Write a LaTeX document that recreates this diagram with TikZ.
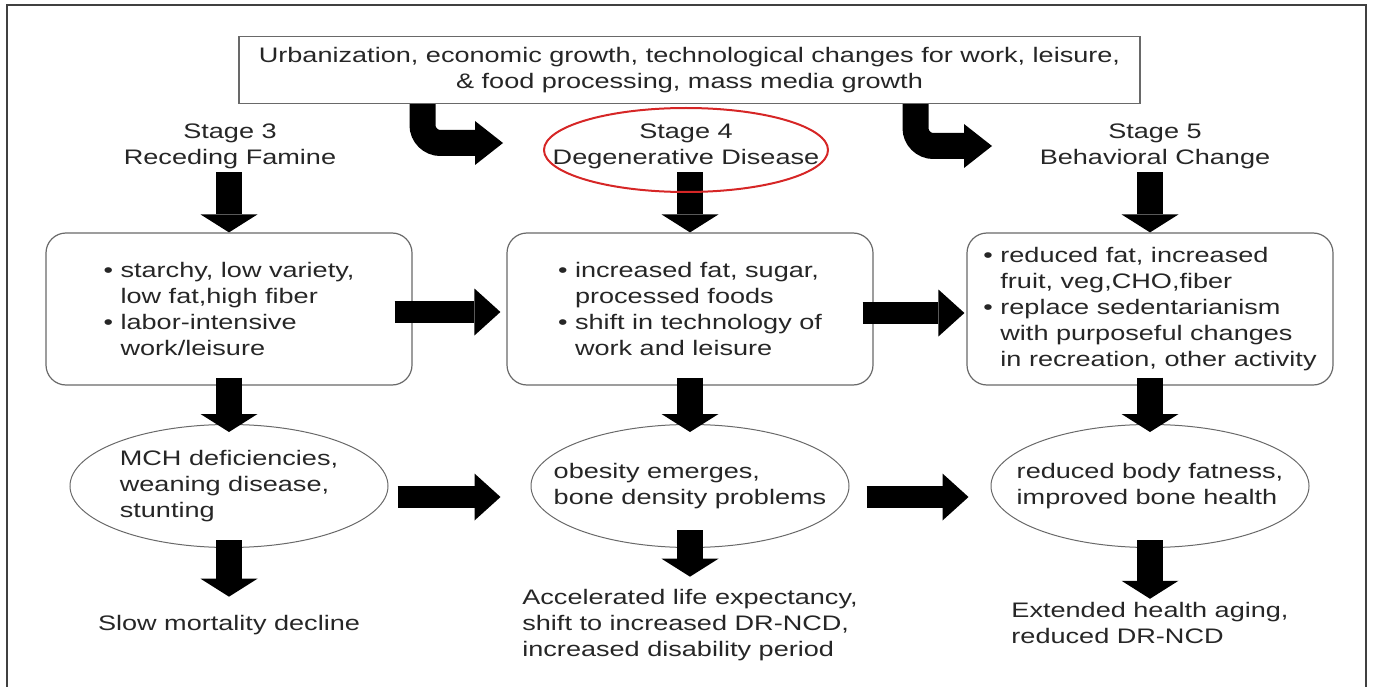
\documentclass[tikz,border=0pt]{standalone}
\usepackage{fontspec}
\setmainfont{Liberation Sans}[FakeStretch=1.29]
\usetikzlibrary{arrows.meta,shapes.geometric}

\definecolor{ringred}{RGB}{214,38,38}
\definecolor{edgegray}{RGB}{105,105,105}
\newcommand{\dotitem}{\textbullet\ }
\newcommand{\dotgap}{\hphantom{\textbullet\ }}

\begin{document}
\begin{tikzpicture}[x=1pt,y=-1pt,
	font=\fontsize{21}{26}\selectfont, text=black!85,
	stagebox/.style={draw=edgegray, line width=1.2pt, rounded corners=20pt,
		minimum width=366pt, minimum height=152pt, align=left},
	outcome/.style={draw=edgegray, line width=1pt, ellipse, minimum width=318pt,
		minimum height=123pt, inner xsep=-25pt, inner ysep=0pt, align=left},
	downfat/.style={line width=26pt, -{Triangle[length=18pt,width=57pt,line width=0pt]}},
	sidefat/.style={line width=22pt, -{Triangle[length=26pt,width=47pt,line width=0pt]}},
	bendfat/.style={line width=26pt, rounded corners=18pt,
		-{Triangle[length=28pt,width=44pt,line width=0pt]}}]
	
	\useasboundingbox (0,0) rectangle (1375,687);
	\draw[line width=1.5pt, black!75] (7,5) rectangle (1366,700); % khung ngoai
	
	% driving forces
	\node[draw=edgegray, line width=1.2pt, minimum width=901pt, minimum height=67pt, align=center]
		(drivers) at (689.5,70) {Urbanization, economic growth, technological changes for work, leisure,\\
		\& food processing, mass media growth};
	
	% stage titles
	\node[align=center] (s3) at (230,146) {Stage 3\\Receding Famine};
	\node[align=center] (s4) at (686,146) {Stage 4\\Degenerative Disease};
	\node[align=center] (s5) at (1155,146) {Stage 5\\Behavioral Change};
	
	% diet and activity
	\node[stagebox] (dietA) at (229,309) {\dotitem starchy, low variety,\\ \dotgap low fat,high fiber\\
		\dotitem labor-intensive\\ \dotgap work/leisure};
	\node[stagebox] (dietB) at (690,309) {\dotitem increased fat, sugar,\\ \dotgap processed foods\\
		\dotitem shift in technology of\\ \dotgap work and leisure};
	\node[stagebox] (dietC) at (1150,309) {\dotitem reduced fat, increased\\ \dotgap fruit, veg,CHO,fiber\\
		\dotitem replace sedentarianism\\ \dotgap with purposeful changes\\ \dotgap in recreation, other activity};
	
	% health outcomes
	\node[outcome] (bodyA) at (229,486) {MCH deficiencies,\\weaning disease,\\stunting};
	\node[outcome] (bodyB) at (690,486) {obesity emerges,\\bone density problems};
	\node[outcome] (bodyC) at (1150,486) {reduced body fatness,\\improved bone health};
	
	% mortality
	\node (lifeA) at (229,625) {Slow mortality decline};
	\node[align=left] (lifeB) at (690,625) {Accelerated life expectancy,\\shift to increased DR-NCD,\\increased disability period};
	\node[align=left] (lifeC) at (1150,623) {Extended health aging,\\reduced DR-NCD};
	
	% bent arrows from the top box
	\coordinate (turn4) at (503,143);
	\coordinate (turn5) at (992,146);
	\draw[bendfat] ([xshift=-267pt]drivers.south) |- (turn4);
	\draw[bendfat] ([xshift=226pt]drivers.south) |- (turn5);
	
	% downward arrows
	\draw[downfat] (s3.south -| dietA.north) -- (dietA.north);
	\draw[downfat] (s4.south -| dietB.north) -- (dietB.north);
	\draw[downfat] (s5.south -| dietC.north) -- (dietC.north);
	\foreach \col in {A,B,C}{
		\draw[downfat] ([yshift=8pt]diet\col.south) -- ([yshift=-8pt]body\col.north);
	}
	\draw[downfat] ([yshift=8pt]bodyA.south) -- ([yshift=15pt]lifeA.north);
	\draw[downfat] ([yshift=18pt]bodyB.south) -- ([yshift=9pt]lifeB.north);
	\draw[downfat] ([yshift=8pt]bodyC.south) -- (lifeC.north);
	
	% sideways arrows
	\draw[sidefat] ([xshift=-18pt,yshift=-3pt]dietA.east) -- ([xshift=-6pt,yshift=-3pt]dietB.west);
	\draw[sidefat] ([xshift=-11pt,yshift=-4pt]dietB.east) -- ([xshift=-2pt,yshift=-4pt]dietC.west);
	\draw[sidefat] ([xshift=9pt,yshift=-11pt]bodyA.east) -- ([xshift=-30pt,yshift=-11pt]bodyB.west);
	\draw[sidefat] ([xshift=17pt,yshift=-11pt]bodyB.east) -- ([xshift=-22pt,yshift=-11pt]bodyC.west);
	
	% highlight of stage 4
	\draw[ringred, line width=2pt] ([yshift=-4pt]s4.center) ellipse (142 and 42);
	
\end{tikzpicture}
\end{document}
